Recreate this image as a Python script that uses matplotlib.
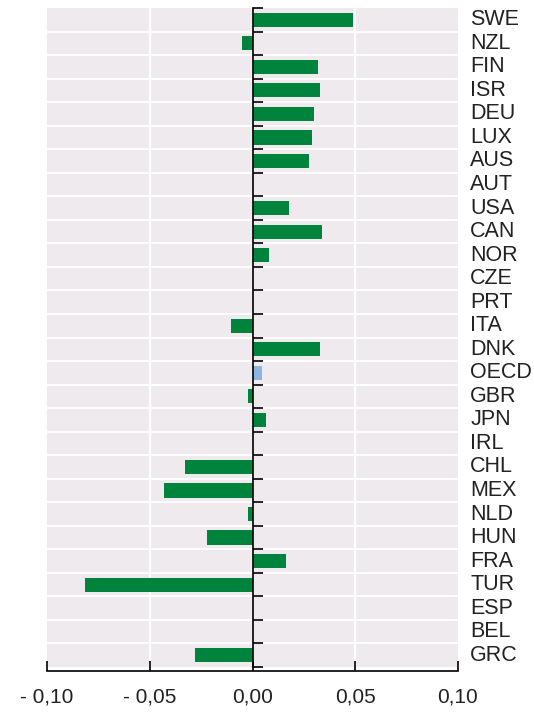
import matplotlib
matplotlib.use("Agg")
import matplotlib.pyplot as plt
import matplotlib.transforms as mtransforms
import numpy as np

countries = ["SWE", "NZL", "FIN", "ISR", "DEU", "LUX", "AUS", "AUT", "USA", "CAN",
             "NOR", "CZE", "PRT", "ITA", "DNK", "OECD", "GBR", "JPN", "IRL", "CHL",
             "MEX", "NLD", "HUN", "FRA", "TUR", "ESP", "BEL", "GRC"]
values = [0.049, -0.005, 0.032, 0.033, 0.030, 0.029, 0.0275, 0.0, 0.0178, 0.034,
          0.0078, 0.0, 0.0, -0.0107, 0.033, 0.0047, -0.0023, 0.0064, 0.0, -0.033,
          -0.043, -0.0023, -0.022, 0.0162, -0.0815, 0.0, 0.0, -0.028]
xticks = [-0.10, -0.05, 0.0, 0.05, 0.10]
xtick_labels = ["- 0,10", "- 0,05", "0,00", "0,05", "0,10"]

GREEN = "#00843D"
BLUE = "#8DB3E2"
PANEL = "#EEEAEE"
FONT = ["Liberation Sans Narrow", "Liberation Sans", "DejaVu Sans"]

plt.rcParams["font.family"] = FONT

fig = plt.figure(figsize=(5.34, 7.12), dpi=100)
ax = fig.add_axes([47 / 534, 45 / 712, 411 / 534, 659 / 712])
ax.set_facecolor(PANEL)

y = np.arange(len(countries))
colors = [BLUE if c == "OECD" else GREEN for c in countries]
ax.barh(y, values, height=0.6, color=colors, zorder=3)

ax.set_ylim(len(countries) - 0.5, -0.5)
ax.set_xlim(-0.10, 0.10)

# white grid: row separators and vertical lines
for b in np.arange(0.5, len(countries) - 0.5, 1.0):
    ax.axhline(b, color="white", lw=1.4, zorder=1)
for xv in [-0.05, 0.05]:
    ax.axvline(xv, color="white", lw=1.6, zorder=1)

for s in ["top", "right"]:
    ax.spines[s].set_visible(False)
ax.spines["left"].set_position(("data", 0))
ax.spines["left"].set_linewidth(1.2)
ax.spines["left"].set_zorder(4)
ax.spines["bottom"].set_position(("outward", 3))
ax.spines["bottom"].set_linewidth(1.2)

ax.set_yticks(np.arange(-0.5, len(countries), 1.0))
ax.set_yticklabels([])
ax.tick_params(axis="y", direction="in", length=7, width=1.2)

ax.set_xticks(xticks)
ax.set_xticklabels(xtick_labels)
ax.tick_params(axis="x", direction="in", length=7, width=1.2, pad=12, labelsize=15,
               labelcolor="#222222")

trans = mtransforms.blended_transform_factory(ax.transAxes, ax.transData)
for i, c in enumerate(countries):
    ax.text(1.03, i, c, transform=trans, ha="left", va="center", fontsize=15.5,
            color="#222222")

fig.savefig("out.png", dpi=100)
